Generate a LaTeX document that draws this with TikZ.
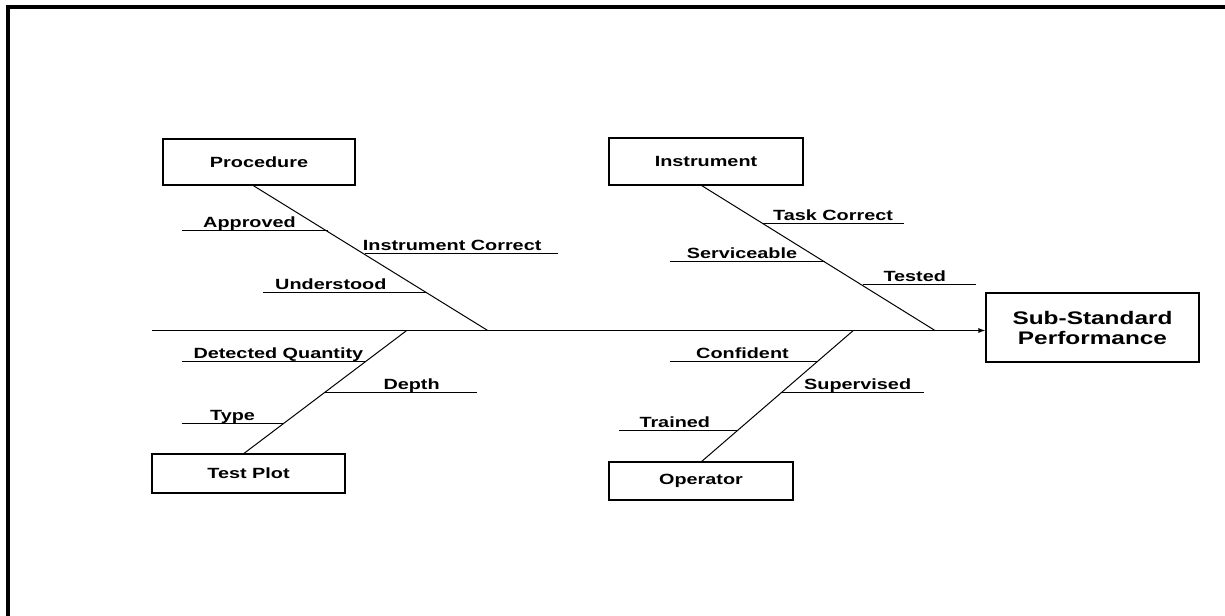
\documentclass[tikz,border=0pt]{standalone}
\usepackage{fontspec}
\setmainfont{Liberation Sans}[FakeStretch=1.34]
\usetikzlibrary{arrows.meta}
\begin{document}
\begin{tikzpicture}[x=1bp,y=-1bp,
  labelfont/.style={font=\bfseries\fontsize{14.8bp}{18bp}\selectfont},
  causebox/.style={draw, line width=1.2bp, inner sep=0pt, labelfont},
  sublabel/.style={labelfont, inner sep=0pt, anchor=base west},
  bone/.style={line width=1bp},
  frameline/.style={line width=4bp, line join=miter}]
\useasboundingbox (0,0) rectangle (1225,616);

% outer frame (top and left edges only)
\draw[frameline] (1225,7.3) -- (8,7.3) -- (8,616);

% cause boxes
\node[causebox, minimum width=192bp, minimum height=46bp] (proc) at (259,162) {Procedure};
\node[causebox, minimum width=194bp, minimum height=47bp] (inst) at (706,161.5) {Instrument};
\node[causebox, minimum width=193bp, minimum height=39bp] (plot) at (248.5,473.5) {Test Plot};
\node[causebox, minimum width=184bp, minimum height=38bp] (oper) at (701,481) {Operator};

% effect box
\node[draw, line width=1.2bp, inner sep=0pt, minimum width=213bp, minimum height=69bp,
      align=center, font=\bfseries\fontsize{18.2bp}{20bp}\selectfont]
      (effect) at (1092.5,327.5) {Sub-Standard\\Performance};

% spine
\coordinate (tail) at (152,330.5);
\draw[bone, -{Latex[length=7bp,width=5bp]}] (tail) -- (tail -| effect.west);

% junctions of the main bones with the spine
\coordinate (jP) at (487.7,330.5);
\coordinate (jI) at (935,330.5);
\coordinate (jT) at (406.7,330.5);
\coordinate (jO) at (853.3,330.5);

% main bones
\draw[bone] (jP) -- ([xshift=-5.7bp]proc.south);
\draw[bone] (jI) -- ([xshift=-4.3bp]inst.south);
\draw[bone] (jT) -- ([xshift=-4.5bp]plot.north);
\draw[bone] (jO) -- ([xshift=0.7bp]oper.north);

% Procedure sub-causes
\node[sublabel] (approved) at (203,227.7) {Approved};
\draw[bone] (181.7,231) coordinate (approvedA) -- (327.7,231) coordinate (approvedB);
\node[sublabel] (instcorr) at (362.7,251) {Instrument Correct};
\draw[bone] (364.8,254) coordinate (instcorrA) -- (558.3,254) coordinate (instcorrB);
\node[sublabel] (understood) at (275,289.7) {Understood};
\draw[bone] (263.3,292.7) coordinate (understoodA) -- (427.4,292.7) coordinate (understoodB);

% Instrument sub-causes
\node[sublabel] (taskcorr) at (773,220.3) {Task Correct};
\draw[bone] (763.3,223.3) coordinate (taskcorrA) -- (904.3,223.3) coordinate (taskcorrB);
\node[sublabel] (service) at (686.7,258.7) {Serviceable};
\draw[bone] (670,261.7) coordinate (serviceA) -- (825.1,261.7) coordinate (serviceB);
\node[sublabel] (tested) at (883.3,282) {Tested};
\draw[bone] (862.6,285) coordinate (testedA) -- (975.7,285) coordinate (testedB);

% Test Plot sub-causes
\node[sublabel] (detected) at (193.3,358.7) {Detected Quantity};
\draw[bone] (181.7,361.7) coordinate (detectedA) -- (365.1,361.7) coordinate (detectedB);
\node[sublabel] (depth) at (383.3,389.3) {Depth};
\draw[bone] (325,392.3) coordinate (depthA) -- (477.3,392.3) coordinate (depthB);
\node[sublabel] (type) at (210,420.3) {Type};
\draw[bone] (181.7,423.3) coordinate (typeA) -- (284.3,423.3) coordinate (typeB);

% Operator sub-causes
\node[sublabel] (confident) at (696,358.7) {Confident};
\draw[bone] (670,361.7) coordinate (confidentA) -- (816.8,361.7) coordinate (confidentB);
\node[sublabel] (supervised) at (804,389.3) {Supervised};
\draw[bone] (781.6,392.3) coordinate (supervisedA) -- (924.3,392.3) coordinate (supervisedB);
\node[sublabel] (trained) at (639.3,427.7) {Trained};
\draw[bone] (619.3,430.7) coordinate (trainedA) -- (736.6,430.7) coordinate (trainedB);
\end{tikzpicture}
\end{document}
